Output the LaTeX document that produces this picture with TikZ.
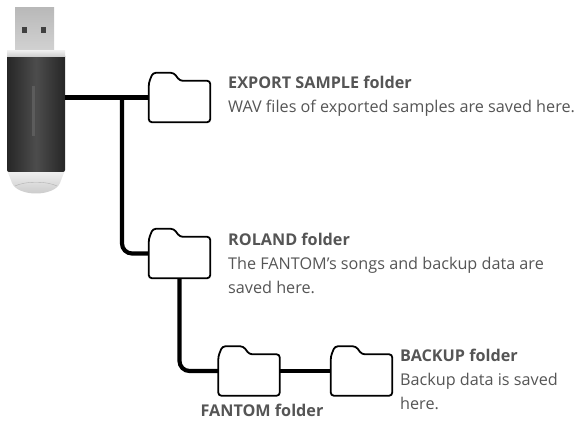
\documentclass[tikz,border=0pt]{standalone}
\usepackage{fontspec}
\setmainfont{Open Sans}
\usetikzlibrary{positioning,calc}
\definecolor{labelgray}{RGB}{85,85,85}

\begin{document}
\begin{tikzpicture}[x=1pt, y=-1pt,
  folderbox/.style={minimum width=61pt, minimum height=49pt, inner sep=0pt},
  folderline/.style={draw=black, line width=1.8pt, fill=white, rounded corners=3pt},
  wire/.style={line width=4.2pt, rounded corners=10pt},
  label/.style={font=\fontsize{16.2}{24}\selectfont, text=labelgray,
    inner sep=0pt, align=left, anchor=base west},
]
  \useasboundingbox (0,0) rectangle (581,422);

  % USB stick: plug
  \shade[top color=gray!55, bottom color=gray!35] (15,8) rectangle (54,52);
  \fill[black!75] (22,27) rectangle (27,33);
  \fill[black!75] (41,27) rectangle (46,33);
  % clear end cap
  \shade[top color=gray!10, bottom color=gray!45]
    (7,170) -- (65,170) -- (60,183) .. controls (54,197) and (18,197) .. (12,183) -- cycle;
  \draw[gray!60, thin] (15,186) .. controls (25,181) and (47,181) .. (57,186);
  % body
  \node[minimum width=58pt, minimum height=118pt, inner sep=0pt,
    left color=black!85, right color=black!85, middle color=black!70,
    rounded corners=2pt] (usb) at (36,113) {};
  \fill[black!64] (32,86) rectangle (35,136);
  % translucent ring
  \shade[top color=gray!15, bottom color=gray!40] (7,51) rectangle (65,57);

  % folders
  \node[folderbox] (fExport) at (179.5,97.5) {};
  \node[folderbox] (fRoland) at (179.5,253.5) {};
  \node[folderbox] (fFantom) at (249,371) {};
  \node[folderbox] (fBackup) at (361.5,371) {};

  % wiring
  \coordinate (split) at (122,97.5);
  \draw[wire] (usb.east |- fExport.west) -- (fExport.west);
  \draw[wire] (split) |- (fRoland.west);
  \draw[wire] (fRoland.south) |- (fFantom.west);
  \draw[wire] (fFantom.east) -- (fBackup.west);

  % folder outlines with tab
  \foreach \f in {fExport,fRoland,fFantom,fBackup}
    \path[folderline] (\f.south west) -- ([yshift=-10pt]\f.north west)
      -- ([xshift=4pt]\f.north west) -- ([xshift=25pt]\f.north west)
      -- ([xshift=31pt, yshift=-8pt]\f.north west)
      -- ([yshift=-8pt]\f.north east) -- (\f.south east) -- cycle;

  % labels (anchored on the last baseline)
  \node[label] (tExport) at (228,113) {\textbf{EXPORT SAMPLE folder}\\
    WAV files of exported samples are saved here.};
  \node[label] (tRoland) at (228,293) {\textbf{ROLAND folder}\\
    The FANTOM’s songs and backup data are\\saved here.};
  \node[label] (tBackup) at (400,409) {\textbf{BACKUP folder}\\
    Backup data is saved\\here.};
  \node[label, anchor=base] (tFantom) at (262,416) {\textbf{FANTOM folder}};
\end{tikzpicture}
\end{document}
